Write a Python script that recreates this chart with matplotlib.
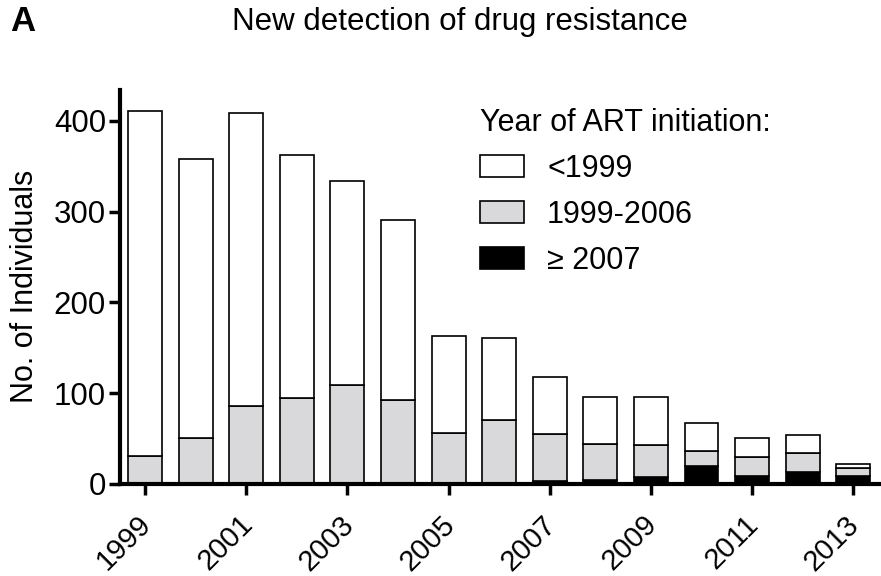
import numpy as np
import matplotlib
matplotlib.use('Agg')
import matplotlib.pyplot as plt
import matplotlib.transforms as mtransforms
from matplotlib.patches import Patch

plt.rcParams['font.family'] = ['Liberation Sans', 'DejaVu Sans']

# data
years = np.arange(1999, 2014)
total = [411, 358, 408, 362, 334, 291, 163, 161, 118, 96, 96, 67, 50, 54, 22]
gray_top = [31, 51, 86, 95, 109, 92, 56, 70, 55, 44, 43, 36, 30, 34, 17]
art_2007 = [0, 0, 0, 0, 0, 0, 0, 0, 3, 4, 7, 20, 9, 13, 9]

art_1999_2006 = [g - b for g, b in zip(gray_top, art_2007)]
art_pre1999 = [t - g for t, g in zip(total, gray_top)]
tick_years = years[::2]

fig = plt.figure(figsize=(8.81, 5.76), dpi=100)
ax = fig.add_axes([0.136, 0.16, 0.864, 0.684])

w = 0.67
lw = 1.2
ax.bar(years, art_2007, w, color='black', edgecolor='black', linewidth=lw)
ax.bar(years, art_1999_2006, w, bottom=art_2007, color='#d9d9db', edgecolor='black', linewidth=lw)
ax.bar(years, art_pre1999, w, bottom=gray_top, color='white', edgecolor='black', linewidth=lw)

ax.set_xlim(1998.5, 2013.55)
ax.set_ylim(0, 434)
ax.set_yticks([0, 100, 200, 300, 400])
ax.set_xticks(tick_years)
ax.set_xticklabels([str(y) for y in tick_years], rotation=45, ha='right',
                   rotation_mode='anchor')
ax.tick_params(axis='both', width=2.5, length=8, direction='out')
ax.tick_params(axis='x', labelsize=21, pad=11)
ax.tick_params(axis='y', labelsize=22.5, pad=2)

# nudge the rotated year labels a little to the left
shift = mtransforms.ScaledTranslation(-8 / 100, 0, fig.dpi_scale_trans)
for lab in ax.get_xticklabels():
    lab.set_transform(lab.get_transform() + shift)

for s in ['top', 'right']:
    ax.spines[s].set_visible(False)
for s in ['left', 'bottom']:
    ax.spines[s].set_linewidth(3)

ax.set_ylabel('No. of Individuals', fontsize=22, labelpad=10)

handles = [Patch(facecolor='white', edgecolor='black', linewidth=lw),
           Patch(facecolor='#d9d9db', edgecolor='black', linewidth=lw),
           Patch(facecolor='black', edgecolor='black', linewidth=lw)]
leg = ax.legend(handles, ['<1999', '1999-2006', '\u2265 2007'],
                title='Year of ART initiation:', fontsize=22, title_fontsize=22,
                frameon=False, loc='upper left', bbox_to_anchor=(0.457, 0.985),
                handlelength=1.45, handleheight=0.72, handletextpad=0.75,
                labelspacing=0.52, alignment='left', borderaxespad=0)

fig.text(0.522, 0.962, 'New detection of drug resistance', fontsize=22.5,
         ha='center', va='center')
fig.text(0.012, 0.962, 'A', fontsize=25, fontweight='bold', ha='left', va='center')

fig.savefig('out.png', dpi=100)
